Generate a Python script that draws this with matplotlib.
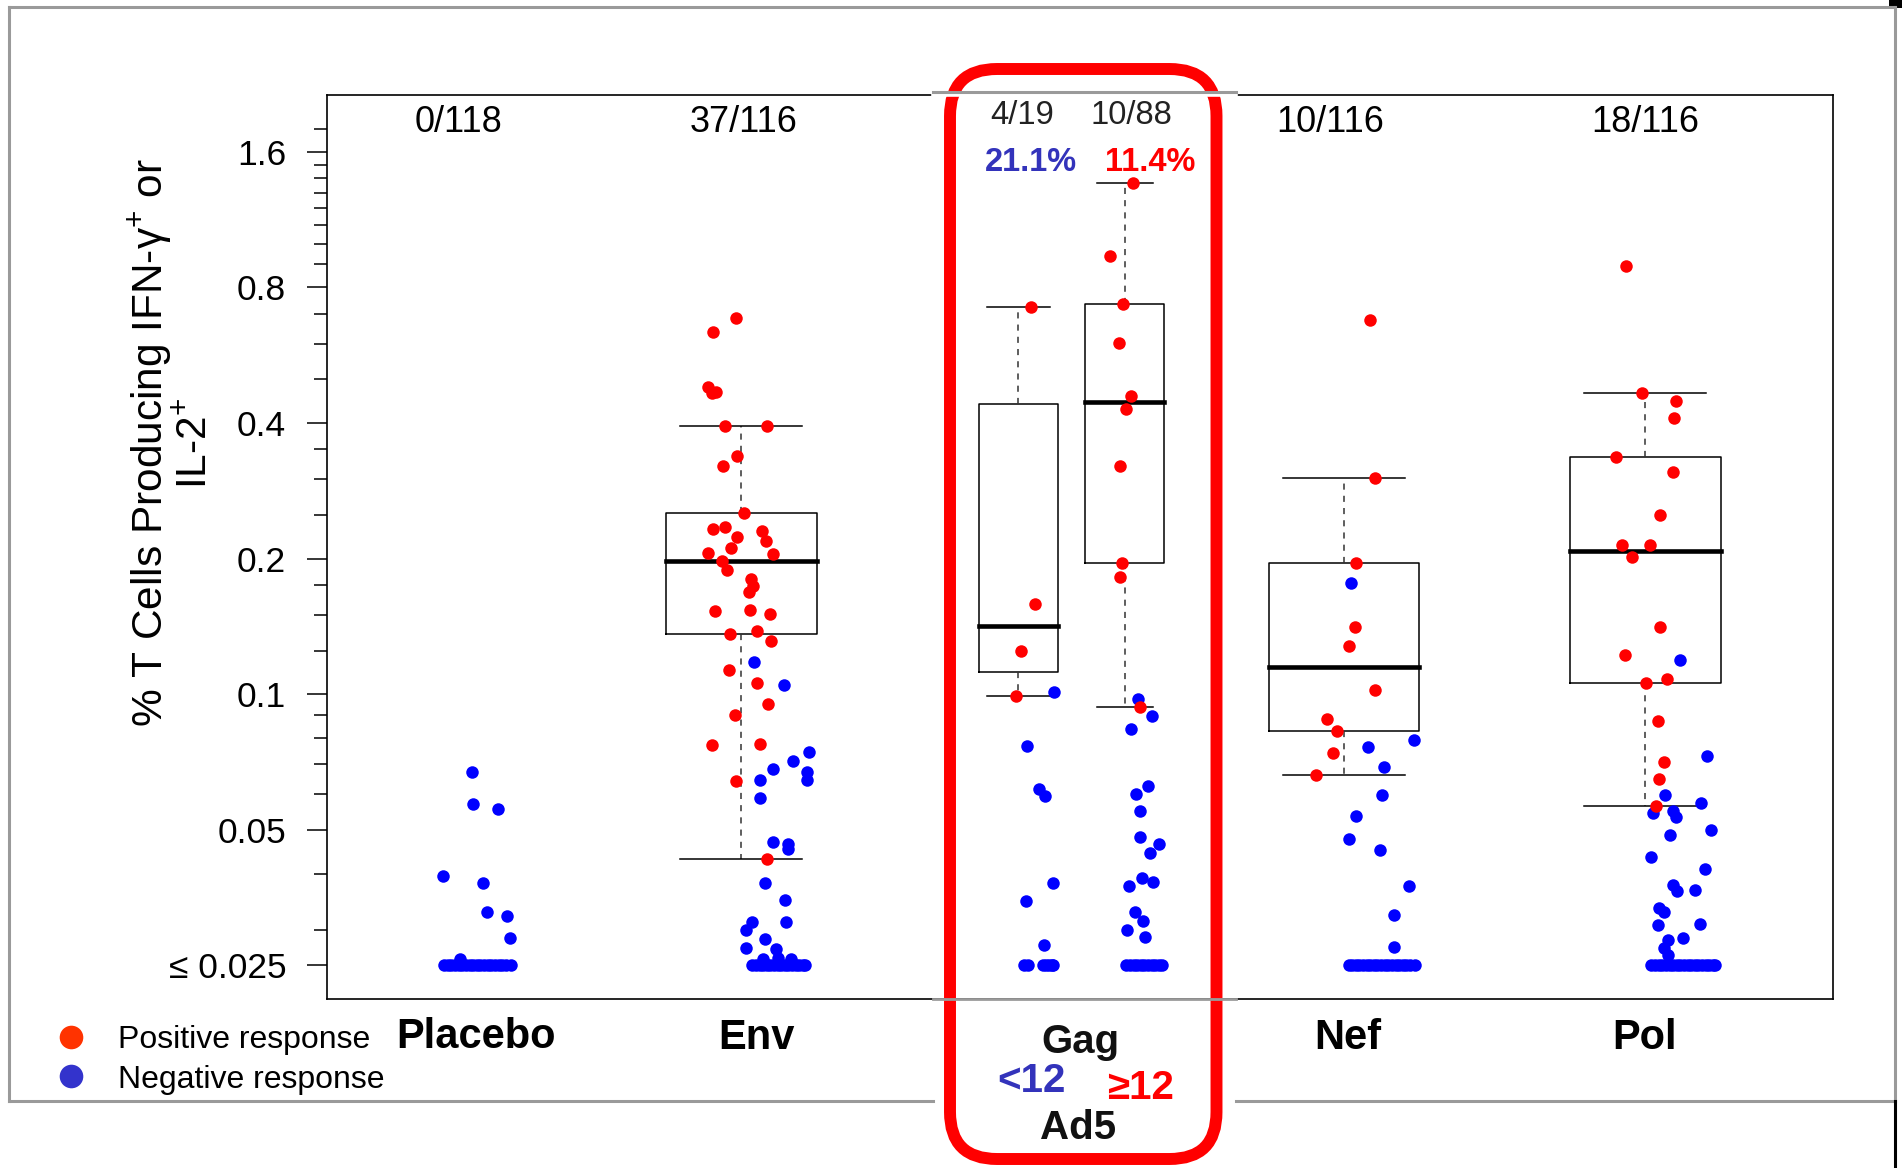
import numpy as np
import matplotlib
matplotlib.use('Agg')
import matplotlib.pyplot as plt
from matplotlib.lines import Line2D
from matplotlib.patches import FancyBboxPatch, Rectangle
from matplotlib.ticker import FixedLocator, NullFormatter
from matplotlib.transforms import blended_transform_factory

plt.rcParams['font.family'] = ['Liberation Sans', 'DejaVu Sans']
plt.rcParams['mathtext.fontset'] = 'custom'
plt.rcParams['mathtext.rm'] = 'Liberation Sans'
plt.rcParams['mathtext.it'] = 'Liberation Sans:italic'
plt.rcParams['mathtext.bf'] = 'Liberation Sans:bold'

# ---- data (% T cells), <= 0.025 drawn at the floor ----
floor_value = 0.025

placebo_pos = []
placebo_neg = [0.0673, 0.0571, 0.0557, 0.0394, 0.0382, 0.0329, 0.0322, 0.0288, 0.0259]

env_pos = [0.684, 0.638, 0.481, 0.467, 0.470, 0.394, 0.394, 0.338, 0.321, 0.252,
           0.233, 0.235, 0.224, 0.230, 0.219, 0.211, 0.206, 0.205, 0.198, 0.189,
           0.180, 0.174, 0.169, 0.153, 0.154, 0.151, 0.136, 0.138, 0.131, 0.113,
           0.106, 0.0952, 0.0900, 0.0771, 0.0776, 0.0642, 0.0430]
env_neg = [0.118, 0.105, 0.0746, 0.0712, 0.0684, 0.0673, 0.0644, 0.0644, 0.0589, 0.0469,
           0.0466, 0.0453, 0.0382, 0.0350, 0.0312, 0.0300, 0.0312, 0.0286, 0.0273, 0.0272,
           0.0259, 0.0260, 0.0259]

gag_lo_pos = [0.725, 0.159, 0.125, 0.0993]
gag_lo_neg = [0.101, 0.0769, 0.0616, 0.0596, 0.0382, 0.0348, 0.0278]

gag_hi_pos = [1.366, 0.941, 0.737, 0.602, 0.459, 0.430, 0.321, 0.196, 0.182, 0.0939]
gag_hi_neg = [0.0974, 0.0895, 0.0838, 0.0625, 0.0601, 0.0551, 0.0483, 0.0466, 0.0444, 0.0391,
              0.0384, 0.0375, 0.0328, 0.0314, 0.0299, 0.0289]

nef_pos = [0.679, 0.302, 0.196, 0.141, 0.128, 0.102, 0.0880, 0.0827, 0.0741, 0.0662]
nef_neg = [0.177, 0.0790, 0.0764, 0.0691, 0.0599, 0.0537, 0.0477, 0.0452, 0.0376, 0.0324, 0.0275]

pol_pos = [0.893, 0.466, 0.448, 0.410, 0.337, 0.311, 0.250, 0.215, 0.214, 0.202,
           0.141, 0.122, 0.106, 0.108, 0.0871, 0.0706, 0.0647, 0.0566]
pol_neg = [0.119, 0.0728, 0.0599, 0.0575, 0.0546, 0.0552, 0.0534, 0.0499, 0.0487, 0.0436,
           0.0409, 0.0378, 0.0365, 0.0367, 0.0336, 0.0328, 0.0307, 0.0309, 0.0285, 0.0287,
           0.0273, 0.0264]

# horizontal jitter of each dot (group units)
placebo_pos_dx = []
placebo_neg_dx = [0.107, 0.112, 0.192, 0.012, 0.142, 0.158, 0.222, 0.234, 0.067]
placebo_floor_dx = [0.015, 0.027, 0.039, 0.051, 0.063, 0.075, 0.087, 0.099, 0.111, 0.123,
                    0.135, 0.147, 0.159, 0.171, 0.183, 0.195, 0.207, 0.219, 0.235]

env_pos_dx = [-0.018, -0.095, -0.111, -0.098, -0.085, -0.052, 0.085, -0.013, -0.060, 0.010,
              -0.093, -0.053, -0.015, 0.070, 0.081, -0.035, -0.111, 0.106, -0.065, -0.046,
              0.032, 0.040, 0.027, -0.087, 0.029, 0.096, -0.036, 0.054, 0.098, -0.041,
              0.051, 0.090, -0.019, -0.098, 0.062, -0.018, 0.086]
env_neg_dx = [0.041, 0.142, 0.226, 0.173, 0.105, 0.217, 0.218, 0.064, 0.063, 0.104,
              0.156, 0.156, 0.080, 0.144, 0.036, 0.016, 0.148, 0.080, 0.017, 0.114,
              0.073, 0.121, 0.164]
env_floor_dx = [0.037, 0.049, 0.061, 0.073, 0.085, 0.097, 0.109, 0.121, 0.133, 0.145,
                0.157, 0.169, 0.181, 0.193, 0.205, 0.212]

gag_lo_pos_dx = [0.040, 0.054, 0.008, -0.008]
gag_lo_neg_dx = [0.118, 0.028, 0.068, 0.087, 0.113, 0.025, 0.085]
gag_lo_floor_dx = [0.02, 0.03, 0.08, 0.09, 0.10, 0.11, 0.115]

gag_hi_pos_dx = [0.027, -0.049, -0.005, -0.017, 0.022, 0.005, -0.015, -0.007, -0.015, 0.052]
gag_hi_neg_dx = [0.046, 0.091, 0.022, 0.078, 0.038, 0.051, 0.051, 0.113, 0.084, 0.057,
                 0.093, 0.015, 0.036, 0.060, 0.007, 0.068]
gag_hi_floor_dx = [0.006, 0.018, 0.030, 0.042, 0.054, 0.066, 0.078, 0.090, 0.102, 0.114, 0.123]

nef_pos_dx = [0.087, 0.104, 0.040, 0.035, 0.017, 0.103, -0.056, -0.023, -0.035, -0.092]
nef_neg_dx = [0.023, 0.231, 0.080, 0.134, 0.126, 0.040, 0.017, 0.121, 0.214, 0.167, 0.167]
nef_floor_dx = [0.015, 0.027, 0.039, 0.051, 0.063, 0.075, 0.087, 0.099, 0.111, 0.123,
                0.135, 0.147, 0.159, 0.171, 0.183, 0.195, 0.207, 0.219, 0.235]

pol_pos_dx = [-0.063, -0.011, 0.100, 0.094, -0.096, 0.091, 0.048, -0.078, 0.015, -0.044,
              0.049, -0.068, 0.001, 0.072, 0.043, 0.060, 0.046, 0.036]
pol_neg_dx = [0.114, 0.205, 0.064, 0.186, 0.026, 0.090, 0.103, 0.216, 0.083, 0.018,
              0.199, 0.093, 0.104, 0.163, 0.044, 0.060, 0.041, 0.180, 0.076, 0.124,
              0.060, 0.076]
pol_floor_dx = [0.020, 0.032, 0.044, 0.056, 0.068, 0.080, 0.092, 0.104, 0.116, 0.128,
                0.140, 0.152, 0.164, 0.176, 0.188, 0.200, 0.212, 0.224, 0.232]

pos_sets = [placebo_pos, env_pos, gag_lo_pos, gag_hi_pos, nef_pos, pol_pos]
neg_sets = [placebo_neg, env_neg, gag_lo_neg, gag_hi_neg, nef_neg, pol_neg]
pos_dx = [placebo_pos_dx, env_pos_dx, gag_lo_pos_dx, gag_hi_pos_dx, nef_pos_dx, pol_pos_dx]
neg_dx = [placebo_neg_dx, env_neg_dx, gag_lo_neg_dx, gag_hi_neg_dx, nef_neg_dx, pol_neg_dx]
floor_dx = [placebo_floor_dx, env_floor_dx, gag_lo_floor_dx, gag_hi_floor_dx, nef_floor_dx, pol_floor_dx]

centers = [1, 2, 2.92, 3.272, 4, 5]
box_w = [0.5, 0.5, 0.26, 0.26, 0.5, 0.5]
cap_w = [0.405, 0.405, 0.21, 0.186, 0.405, 0.405]

top_labels = ['0/118', '37/116', '4/19', '10/88', '10/116', '18/116']
y_major = [1.6, 0.8, 0.4, 0.2, 0.1, 0.05, 0.025]
y_major_labels = ['1.6', '0.8', '0.4', '0.2', '0.1', '0.05', '≤ 0.025']
y_minor = [1.8, 1.5, 1.4, 1.3, 1.2, 1.1, 1.0, 0.9, 0.7, 0.6, 0.5, 0.35, 0.3, 0.25,
           0.175, 0.15, 0.125, 0.09, 0.08, 0.07, 0.06, 0.04, 0.03]

RED = '#ff0000'
BLUE = '#0000ff'
LBLUE = '#3333bb'


def fivenum(v):
    # Tukey hinges, as R's boxplot uses
    x = np.sort(np.asarray(v, dtype=float))
    n = len(x)
    n4 = np.floor((n + 3) / 2) / 2
    d = np.array([1, n4, (n + 1) / 2, n + 1 - n4, n]) - 1
    return 0.5 * (x[np.floor(d).astype(int)] + x[np.ceil(d).astype(int)])


W, H = 1902, 1168
fig = plt.figure(figsize=(W / 100, H / 100), dpi=100)
ax = fig.add_axes([327 / W, 1 - 999.2 / H, (1832.6 - 327) / W, (999.2 - 95) / H])
ax.set_yscale('log', base=2)
ax.set_ylim(0.02104, 2.14)
ax.set_xlim(0.626, 5.621)

# boxes from the positive responders
stats, bpos, bw, bc = [], [], [], []
for vals, c, w, cw in zip(pos_sets, centers, box_w, cap_w):
    if len(vals) == 0:
        continue
    f = fivenum(vals)
    iqr = f[3] - f[1]
    x = np.asarray(vals)
    stats.append(dict(med=f[2], q1=f[1], q3=f[3],
                      whislo=x[x >= f[1] - 1.5 * iqr].min(),
                      whishi=x[x <= f[3] + 1.5 * iqr].max(), fliers=[]))
    bpos.append(c)
    bw.append(w)
    bc.append(cw)

ax.bxp(stats, positions=bpos, widths=bw, capwidths=bc, showfliers=False,
       manage_ticks=False,
       boxprops=dict(color='black', lw=1.1),
       whiskerprops=dict(color='#333333', lw=1.1, linestyle=(0, (4, 4))),
       capprops=dict(color='black', lw=1.1),
       medianprops=dict(color='black', lw=3.3, solid_capstyle='projecting'),
       zorder=2)

for c, neg, ndx, fdx in zip(centers, neg_sets, neg_dx, floor_dx):
    ax.scatter(c + np.asarray(fdx), [floor_value] * len(fdx), s=81, color=BLUE,
               linewidths=0, zorder=3)
    ax.scatter(c + np.asarray(ndx), neg, s=81, color=BLUE, linewidths=0, zorder=3)
for c, pos, pdx in zip(centers, pos_sets, pos_dx):
    if len(pos):
        ax.scatter(c + np.asarray(pdx), pos, s=81, color=RED, linewidths=0, zorder=4)

ax.yaxis.set_major_locator(FixedLocator(y_major))
ax.set_yticklabels(y_major_labels)
ax.yaxis.set_minor_locator(FixedLocator(y_minor))
ax.yaxis.set_minor_formatter(NullFormatter())
ax.tick_params(axis='y', which='major', length=14.4, width=1.1, pad=15, labelsize=25.5)
ax.tick_params(axis='y', which='minor', length=9.6, width=1.1)
ax.set_xticks([])
for sp in ax.spines.values():
    sp.set_linewidth(1.2)

fig.text(171 / W, 1 - 443 / H, '% T Cells Producing IFN-γ$^{+}$ or\nIL-2$^{+}$',
         rotation=90, ha='center', va='center', fontsize=30.5, linespacing=1.05,
         multialignment='center')

tr = blended_transform_factory(ax.transData, fig.transFigure)


def fy(py):
    return 1 - py / H


top_x = [1.062, 2.009, 2.933, 3.293, 3.955, 5.0]
top_y = [132, 132, 124.4, 124.4, 132, 132]
top_fs = [26, 26, 23.5, 23.5, 26, 26]
for lab, x, y, fs in zip(top_labels, top_x, top_y, top_fs):
    ax.text(x, fy(y), lab, transform=tr, ha='center', va='baseline', fontsize=fs,
            color='black' if fs > 25 else '#222222')

ax.text(2.961, fy(171), '21.1%', transform=tr, ha='center', va='baseline',
        fontsize=23.5, fontweight='bold', color=LBLUE)
ax.text(3.356, fy(171), '11.4%', transform=tr, ha='center', va='baseline',
        fontsize=23.5, fontweight='bold', color=RED)

ax.text(1.12, fy(1048.3), 'Placebo', transform=tr, ha='center', va='baseline',
        fontsize=30, fontweight='bold')
ax.text(2.052, fy(1049.4), 'Env', transform=tr, ha='center', va='baseline',
        fontsize=30, fontweight='bold')
ax.text(3.124, fy(1053.2), 'Gag', transform=tr, ha='center', va='baseline',
        fontsize=29, fontweight='bold', color='#111111')
ax.text(2.962, fy(1091.8), '<12', transform=tr, ha='center', va='baseline',
        fontsize=29, fontweight='bold', color=LBLUE)
ax.text(3.324, fy(1099.3), '≥12', transform=tr, ha='center', va='baseline',
        fontsize=29, fontweight='bold', color=RED)
ax.text(3.117, fy(1138.7), 'Ad5', transform=tr, ha='center', va='baseline',
        fontsize=29, fontweight='bold', color='#111111')
ax.text(4.013, fy(1048.7), 'Nef', transform=tr, ha='center', va='baseline',
        fontsize=30, fontweight='bold')
ax.text(4.998, fy(1048.7), 'Pol', transform=tr, ha='center', va='baseline',
        fontsize=30, fontweight='bold')

handles = [Line2D([], [], marker='o', ls='', ms=17, color='#ff3300', mec='none'),
           Line2D([], [], marker='o', ls='', ms=17, color='#3333cc', mec='none')]
fig.legend(handles, ['Positive response', 'Negative response'], loc='upper left',
           bbox_to_anchor=(55.4 / W, fy(1025)), frameon=False, fontsize=23,
           handlelength=1.0, handletextpad=0.95, labelspacing=0.3,
           borderpad=0, borderaxespad=0)

# overlay in pixel units: outer frame, pasted Gag panel edges, red highlight
ov = fig.add_axes([0, 0, 1, 1], zorder=5)
ov.set_xlim(0, W)
ov.set_ylim(H, 0)
ov.axis('off')
ov.patch.set_alpha(0)
grey = '#9a9a9a'
ov.plot([9, 1895], [7, 7], color=grey, lw=2.2)
ov.plot([9, 9], [7, 1100.5], color=grey, lw=2.2)
ov.plot([1895, 1895], [7, 1100.5], color=grey, lw=2.2)
ov.plot([9, 932.6], [1100.5, 1100.5], color=grey, lw=2.2)
ov.plot([1236, 1895], [1100.5, 1100.5], color=grey, lw=2.2)
ov.plot([932.6, 1236], [95, 95], color='white', lw=2.6)
ov.plot([932.6, 1236], [92, 92], color=grey, lw=2.2)
ov.plot([932.6, 1236], [999.2, 999.2], color=grey, lw=2.0)
ov.plot([1894.5, 1894.5], [1101, 1168], color='black', lw=2.2)
ov.add_patch(Rectangle((1889, 0), 13, 7.5, color='black', lw=0))
ov.add_patch(FancyBboxPatch((950, 69), 266.5, 1090,
                            boxstyle='round,pad=0,rounding_size=47',
                            fill=False, ec=RED, lw=8.6, clip_on=False))

fig.savefig('out.png', dpi=100)
